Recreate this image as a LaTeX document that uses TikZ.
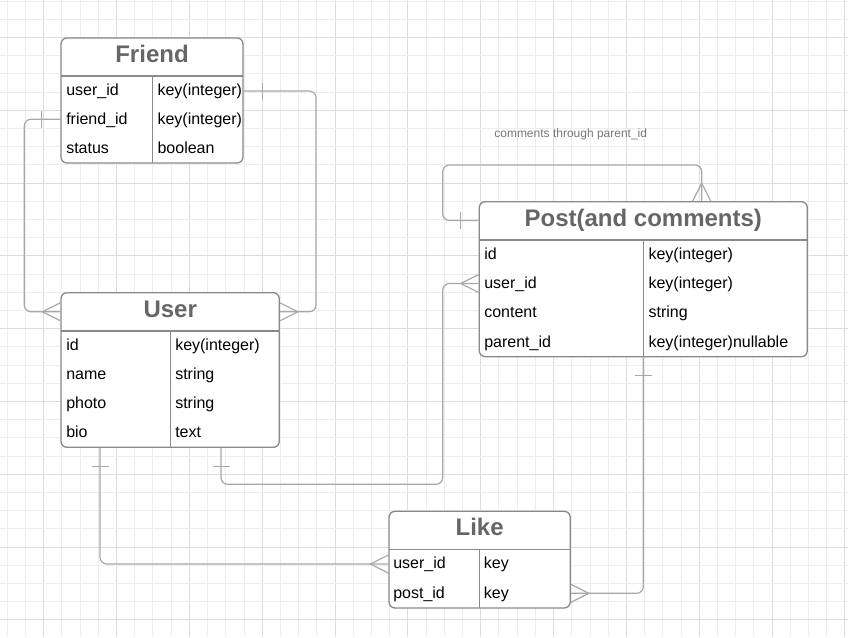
\documentclass[tikz,border=0pt]{standalone}
\usepackage{fontspec}
\setmainfont{Liberation Sans}
\usepackage{tikz}
\usetikzlibrary{calc,fit}
\definecolor{erd-grid}{HTML}{EDEDED}
\definecolor{erd-major}{HTML}{DDDDDD}
\definecolor{erd-border}{HTML}{8A8A8A}
\definecolor{erd-link}{HTML}{A8A8A8}
\definecolor{erd-title}{HTML}{666666}
\definecolor{erd-note}{HTML}{777777}
\tikzset{
  tbl/.style={draw=erd-border,fill=white,line width=1pt,rounded corners=4.5pt,inner sep=0pt},
  edge/.style={draw=erd-border,line width=1pt},
  link/.style={draw=erd-link,line width=0.9pt},
  ttl/.style={font=\fontsize{18}{20}\selectfont\bfseries,text=erd-title,inner sep=0pt,text height=0.72em,text depth=0.21em},
  cell/.style={anchor=west,font=\fontsize{12}{14}\selectfont,inner sep=0pt,text height=0.72em,text depth=0.21em},
  note/.style={font=\fontsize{9}{11}\selectfont,text=erd-note,inner sep=0pt},
  one/.pic={\draw[link] (18.5,-8.5) -- (18.5,8.5);},
  many/.pic={\draw[link] (0,-9) -- (18,0) -- (0,9);}
}

\begin{document}
\begin{tikzpicture}[x=0.75pt,y=-0.75pt]
  % background and grid
  \fill[white] (0,0) rectangle (848,637);
  \useasboundingbox (0,0) rectangle (848,637);
  \foreach \k in {0,...,46}{
    \pgfmathtruncatemacro\m{mod(\k,4)}
    \ifnum\m=2 \def\gc{erd-major}\else\def\gc{erd-grid}\fi
    \draw[\gc,line width=0.75pt] ({7.3+18.21*\k},0) -- ({7.3+18.21*\k},637);
  }
  \foreach \k in {0,...,34}{
    \pgfmathtruncatemacro\m{mod(\k,4)}
    \ifnum\m=2 \def\gc{erd-major}\else\def\gc{erd-grid}\fi
    \draw[\gc,line width=0.75pt] (0,{1+18.2*\k}) -- (848,{1+18.2*\k});
  }

  % Friend
  \node[tbl,fit={(61,38) (243,163)}] (friend) {};
  \draw[edge] (61,76) -- (243,76) (152.3,76) -- (152.3,163);
  \node[ttl] (fr-title) at (152,59) {Friend};
  \node[cell] (fr-uid) at (66,92) {user\_id};
  \node[cell] (fr-uid-t) at (157.3,92) {key(integer)};
  \node[cell] (fr-fid) at (66,121) {friend\_id};
  \node[cell] (fr-fid-t) at (157.3,121) {key(integer)};
  \node[cell] (fr-st) at (66,150) {status};
  \node[cell] (fr-st-t) at (157.3,150) {boolean};

  % User
  \node[tbl,fit={(61,292.7) (279.3,447.3)}] (user) {};
  \draw[edge] (61,331) -- (279.3,331) (170.3,331) -- (170.3,447.3);
  \node[ttl] (us-title) at (170.2,314) {User};
  \node[cell] (us-id) at (66,347) {id};
  \node[cell] (us-id-t) at (175,347) {key(integer)};
  \node[cell] (us-name) at (66,376.1) {name};
  \node[cell] (us-name-t) at (175,376.1) {string};
  \node[cell] (us-photo) at (66,405.2) {photo};
  \node[cell] (us-photo-t) at (175,405.2) {string};
  \node[cell] (us-bio) at (66,434.3) {bio};
  \node[cell] (us-bio-t) at (175,434.3) {text};

  % Post(and comments)
  \node[tbl,fit={(479.3,201.7) (807.3,356.7)}] (post) {};
  \draw[edge] (479.3,240) -- (807.3,240) (643.5,240) -- (643.5,356.7);
  \node[ttl] (po-title) at (643.3,223) {Post(and comments)};
  \node[cell] (po-id) at (484,256.1) {id};
  \node[cell] (po-id-t) at (648.3,256.1) {key(integer)};
  \node[cell] (po-uid) at (484,285.3) {user\_id};
  \node[cell] (po-uid-t) at (648.3,285.3) {key(integer)};
  \node[cell] (po-ct) at (484,314.5) {content};
  \node[cell] (po-ct-t) at (648.3,314.5) {string};
  \node[cell] (po-pid) at (484,343.6) {parent\_id};
  \node[cell] (po-pid-t) at (648.3,343.6) {key(integer)nullable};

  % Like
  \node[tbl,fit={(389,511.3) (570.2,608)}] (like) {};
  \draw[edge] (389,549.3) -- (570.2,549.3) (479.6,549.3) -- (479.6,608);
  \node[ttl] (lk-title) at (479.6,532.5) {Like};
  \node[cell] (lk-uid) at (393,565.5) {user\_id};
  \node[cell] (lk-uid-t) at (483.7,565.5) {key};
  \node[cell] (lk-pid) at (393,594.8) {post\_id};
  \node[cell] (lk-pid-t) at (483.7,594.8) {key};

  % bend points
  \coordinate (k1) at (316,0);
  \coordinate (k2) at (24.3,0);
  \coordinate (k3) at (442.7,165);
  \coordinate (k4) at (701.7,165);
  \coordinate (k5) at (221,484.3);
  \coordinate (k6) at (442.7,484.3);
  \coordinate (k7) at (100,0);
  \coordinate (k8) at (643.3,0);
  \coordinate (yf1) at (0,91);
  \coordinate (yf2) at (0,119.3);
  \coordinate (yu) at (0,311.8);
  \coordinate (yp) at (0,220.5);
  \coordinate (ypu) at (0,283.5);
  \coordinate (yl1) at (0,564);
  \coordinate (yl2) at (0,593.3);

  % relations
  \draw[link,rounded corners=5pt] (friend.east |- yf1) -- (k1 |- yf1) -- (k1 |- yu) -- (user.east |- yu);
  \pic at (friend.east |- yf1) {one};
  \pic at (user.east |- yu) {many};

  \draw[link,rounded corners=5pt] (friend.west |- yf2) -- (k2 |- yf2) -- (k2 |- yu) -- (user.west |- yu);
  \pic[rotate=180] at (friend.west |- yf2) {one};
  \pic[rotate=180] at (user.west |- yu) {many};

  \draw[link,rounded corners=5pt] (post.west |- yp) -- (k3 |- yp) -- (k3) -- (k4) -- (k4 |- post.north);
  \pic[rotate=180] at (post.west |- yp) {one};
  \pic[rotate=90] at (k4 |- post.north) {many};
  \node[note] (loop-note) at (570.7,134) {comments through parent\_id};

  \draw[link,rounded corners=5pt] (k5 |- user.south) -- (k5) -- (k6) -- (k6 |- ypu) -- (post.west |- ypu);
  \pic[rotate=-90] at (k5 |- user.south) {one};
  \pic[rotate=180] at (post.west |- ypu) {many};

  \draw[link,rounded corners=5pt] (k7 |- user.south) -- (k7 |- yl1) -- (like.west |- yl1);
  \pic[rotate=-90] at (k7 |- user.south) {one};
  \pic[rotate=180] at (like.west |- yl1) {many};

  \draw[link,rounded corners=5pt] (k8 |- post.south) -- (k8 |- yl2) -- (like.east |- yl2);
  \pic[rotate=-90] at (k8 |- post.south) {one};
  \pic at (like.east |- yl2) {many};
\end{tikzpicture}
\end{document}
